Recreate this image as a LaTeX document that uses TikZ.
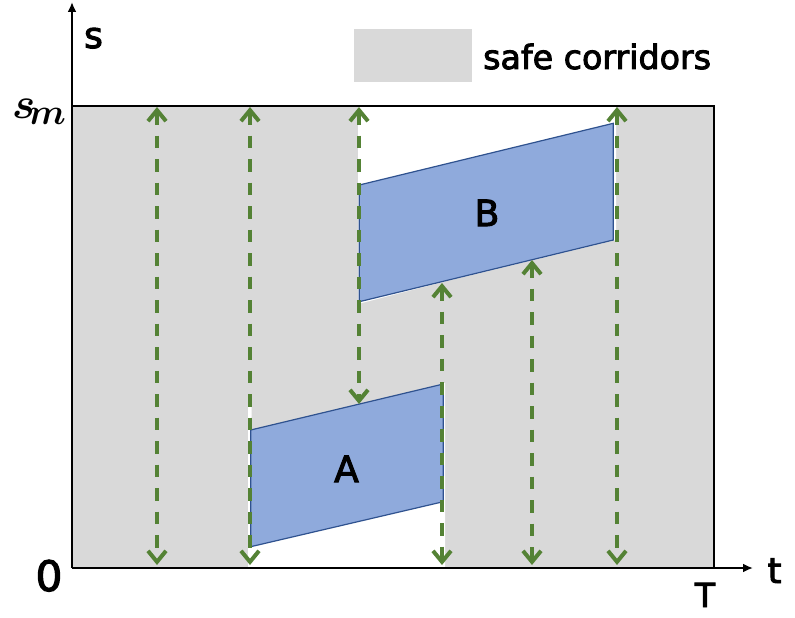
\documentclass[tikz,border=0pt]{standalone}
\usepackage{graphicx}
\usepackage{fontspec}
\setmainfont{DejaVu Sans}[FakeBold=2.8]
\usetikzlibrary{arrows.meta}
\definecolor{corr}{HTML}{D9D9D9}
\definecolor{boxfill}{HTML}{8FAADC}
\definecolor{boxedge}{HTML}{2F528F}
\definecolor{grn}{HTML}{548235}
\tikzset{
  axisline/.style={line width=2.8pt, draw=black},
  axisarrow/.style={axisline, -{Latex[length=10pt,width=9pt]}},
  gbarb/.tip={Straight Barb[length=11pt,width=18pt]},
  garrow/.style={draw=grn, line width=4pt, dash pattern=on 12.5pt off 11pt, gbarb-gbarb},
  obstacle/.style={fill=boxfill, draw=boxedge, line width=1.2pt, line join=miter},
  lbl/.style={inner sep=0pt, anchor=base},
}
\begin{document}
\begin{tikzpicture}[x=1pt,y=-1pt]
\useasboundingbox (0,0) rectangle (795,618);
% safe corridors (gray) with white non-safe regions
\fill[corr] (72,106) rectangle (714,568);
\fill[white] (358,106) -- (616,106) -- (616,240) -- (443,282) -- (358,304) -- cycle;
\fill[white] (248,568) -- (248,400) -- (251.5,400) -- (251.5,430) -- (357,405.5) -- (445,383) -- (445,568) -- cycle;
% obstacles
\filldraw[obstacle] (359.3,185) -- (613.3,123.3) -- (613.3,240) -- (359.3,301.7) -- cycle;
\filldraw[obstacle] (250.7,430) -- (443.3,384) -- (443.3,501.7) -- (250.7,546.7) -- cycle;
\node[lbl, font=\fontsize{36}{40}\selectfont] (B) at (487,226) {B};
\node[lbl, font=\fontsize{36}{40}\selectfont] (A) at (346.5,482) {A};
% frame and axes
\coordinate (O) at (72,568);
\coordinate (TL) at (72,106);
\coordinate (TR) at (714,106);
\coordinate (BR) at (714,568);
\coordinate (tend) at (753,568);
\coordinate (send) at (72,2);
\draw[axisline] (TL) -- (TR) -- (BR);
\draw[axisarrow] (O) -- (tend);
\draw[axisarrow] (O) -- (send);
% green arrows
\coordinate (g1t) at (157,107); \coordinate (g1b) at (157,565);
\coordinate (g2t) at (250,107); \coordinate (g2b) at (250,565);
\coordinate (g3t) at (359,107); \coordinate (g3b) at (359,404);
\coordinate (g4t) at (442,283); \coordinate (g4b) at (442,565);
\coordinate (g5t) at (532,260); \coordinate (g5b) at (532,565);
\coordinate (g6t) at (617,107); \coordinate (g6b) at (617,565);
\draw[garrow] (g1t) -- (g1b);
\draw[garrow] (g2t) -- (g2b);
\draw[garrow] (g3t) -- (g3b);
\draw[garrow] (g4t) -- (g4b);
\draw[garrow] (g5t) -- (g5b);
\draw[garrow] (g6t) -- (g6b);
% labels
\node[lbl, font=\fontsize{36}{40}\selectfont] (slbl) at (93.5,48) {s};
\node[lbl, anchor=base west, font={\fontsize{24.88}{30}\selectfont\boldmath}] (smlbl) at (12,118) {\scalebox{1.75}{$s_{\mkern-3mu m}$}};
\node[lbl, font=\fontsize{42}{46}\selectfont] (zero) at (49,591) {0};
\node[lbl, font=\fontsize{35}{40}\selectfont] (tlbl) at (774.5,583) {t};
\node[lbl, font=\fontsize{33}{38}\selectfont] (Tlbl) at (705,607) {T};
% legend
\node[fill=corr, minimum width=118pt, minimum height=52pt, inner sep=0pt] (leg) at (413,55.5) {};
\node[lbl, anchor=base west, font=\fontsize{33.3}{36}\selectfont] (legtxt) at (483,69) {safe corridors};
\end{tikzpicture}
\end{document}
